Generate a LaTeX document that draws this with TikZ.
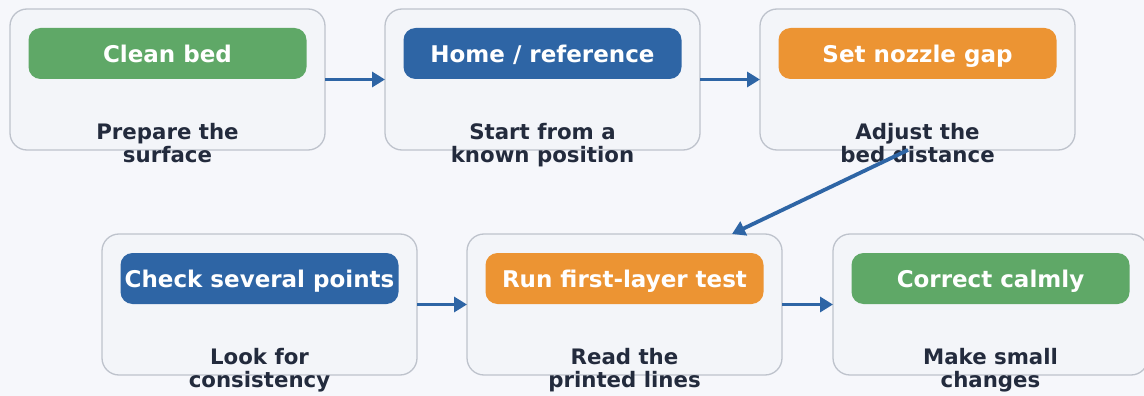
\documentclass[tikz,border=0pt]{standalone}
\usepackage{fontspec}
\setmainfont{DejaVu Sans}
\usepackage{xcolor}
\usepackage{tikz}
\usetikzlibrary{positioning, arrows.meta}
\definecolor{pagebg}{HTML}{F6F7FB}
\definecolor{cardbg}{HTML}{F3F5F9}
\definecolor{cardline}{HTML}{BEC3CC}
\definecolor{stepgreen}{HTML}{5FA867}
\definecolor{stepblue}{HTML}{2E65A5}
\definecolor{steporange}{HTML}{EC9433}
\definecolor{inkdark}{HTML}{232B3D}
\tikzset{
    card/.style={rectangle, draw=cardline, line width=1.3pt, fill=cardbg, rounded corners=17pt, minimum width=315pt, minimum height=141pt, inner sep=0pt, outer sep=0pt},
    pill/.style={rectangle, rounded corners=12pt, minimum width=278pt, minimum height=51pt, inner sep=0pt, outer sep=0pt, text=white, font=\fontsize{23}{27}\selectfont\bfseries, text height=18pt, text depth=0pt},
    sub/.style={align=center, text=inkdark, inner sep=0pt, font=\fontsize{21.3}{23}\selectfont\bfseries},
    flow/.style={-{Triangle[length=13pt, width=15pt]}, line width=3.8pt, draw=stepblue}
}

\begin{document}
\begin{tikzpicture}
    % Page
    \fill[pagebg] (0pt,0pt) rectangle (1144pt,-396pt);
    \useasboundingbox (0pt,0pt) rectangle (1144pt,-396pt);

    % First row
    \node[card] (Clean) at (167.5pt,-79.5pt) {};
    \node[card, right=60pt of Clean] (Home) {};
    \node[card, right=60pt of Home] (Gap) {};

    % Second row
    \node[card, below=84pt of Clean, xshift=92pt] (Check) {};
    \node[card, right=50pt of Check] (RunTest) {};
    \node[card, right=51pt of RunTest] (Correct) {};

    % Titles
    \node[pill, fill=stepgreen, below=19pt of Clean.north] (CleanT) {Clean bed};
    \node[pill, fill=stepblue, below=19pt of Home.north] (HomeT) {Home / reference};
    \node[pill, fill=steporange, below=19pt of Gap.north] (GapT) {Set nozzle gap};
    \node[pill, fill=stepblue, below=19pt of Check.north] (CheckT) {Check several points};
    \node[pill, fill=steporange, below=19pt of RunTest.north] (RunTestT) {Run first-layer test};
    \node[pill, fill=stepgreen, below=19pt of Correct.north] (CorrectT) {Correct calmly};

    % Notes
    \node[sub, below=43.6pt of Clean.center] (CleanS) {Prepare the\\surface};
    \node[sub, below=43.6pt of Home.center] (HomeS) {Start from a\\known position};
    \node[sub, below=43.6pt of Gap.center] (GapS) {Adjust the\\bed distance};
    \node[sub, below=43.6pt of Check.center] (CheckS) {Look for\\consistency};
    \node[sub, below=43.6pt of RunTest.center] (RunTestS) {Read the\\printed lines};
    \node[sub, below=43.6pt of Correct.center] (CorrectS) {Make small\\changes};

    % Flow
    \draw[flow] (Clean) -- (Home);
    \draw[flow] (Home) -- (Gap);
    \draw[flow] ([xshift=-9.5pt]Gap.south) -- ([xshift=107.5pt]RunTest.north);
    \draw[flow] (Check) -- (RunTest);
    \draw[flow] (RunTest) -- (Correct);
\end{tikzpicture}
\end{document}
